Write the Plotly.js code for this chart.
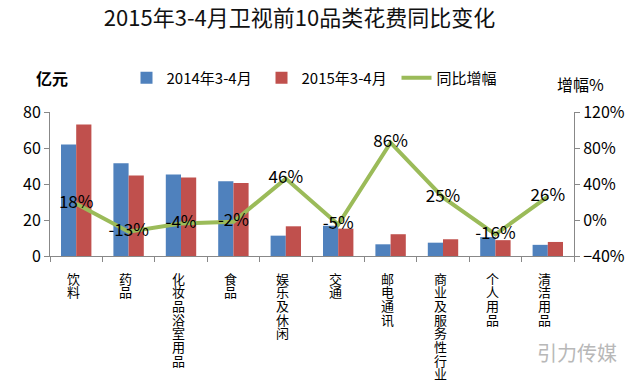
<!DOCTYPE html>
<html>
<head>
<meta charset="utf-8">
<script src="https://cdn.plot.ly/plotly-3.0.1.min.js"></script>
<style>html,body{margin:0;padding:0;background:#fff;}#chart{width:640px;height:382px;}</style>
</head>
<body>
<div id="chart"></div>
<script>
var categories = ["饮料", "药品", "化妆品、浴室用品", "食品", "娱乐及休闲", "交通", "邮电通讯", "商业及服务性行业", "个人用品", "清洁用品"];
var spend2014 = [62, 51.5, 45.3, 41.5, 11.3, 16.8, 6.5, 7.4, 10.5, 6.2];
var spend2015 = [73, 44.7, 43.6, 40.5, 16.5, 15.2, 12.1, 9.3, 8.8, 7.8];
var growth = [18, -13, -4, -2, 46, -5, 86, 25, -16, 26];
var growthLabels = ["18%", "-13%", "-4%", "-2%", "46%", "-5%", "86%", "25%", "-16%", "26%"];

var FONT = '"Noto Sans CJK SC", "Noto Sans", sans-serif';

var traces = [
  {type: 'bar', name: '2014年3-4月', x: categories, y: spend2014, marker: {color: '#4f81bd'}},
  {type: 'bar', name: '2015年3-4月', x: categories, y: spend2015, marker: {color: '#c0504d'}},
  {type: 'scatter', mode: 'lines+text', name: '同比增幅', x: categories, y: growth, yaxis: 'y2',
   line: {color: '#9bbb59', width: 4}, text: growthLabels, textposition: 'middle center',
   textfont: {size: 17, color: '#000', family: FONT}, cliponaxis: false}
];

// vertical category labels, one character per line (stacked tightly as in the source)
var STEP = 13.7;
var annotations = [];
categories.forEach(function (cat) {
  var row = 0;
  Array.from(cat).forEach(function (ch) {
    if (ch === '、') {
      annotations.push({text: ch, xref: 'x', yref: 'paper', x: cat, y: 0, xanchor: 'center', yanchor: 'middle',
        xshift: 4, yshift: -22 - (row - 1) * STEP - 6, borderpad: 0, showarrow: false, font: {size: 11, family: FONT, color: '#000'}});
      return;
    }
    annotations.push({text: ch, xref: 'x', yref: 'paper', x: cat, y: 0, xanchor: 'center', yanchor: 'middle',
      xshift: -3, yshift: -22 - row * STEP, borderpad: 0, showarrow: false, font: {size: 13, family: FONT, color: '#000'}});
    row++;
  });
});

annotations.push(
  {text: '<b>亿元</b>', xref: 'paper', yref: 'paper', x: -0.03, y: 1.236, xanchor: 'left', yanchor: 'middle', showarrow: false, font: {size: 16, family: FONT}},
  {text: '增幅%', xref: 'paper', yref: 'paper', x: 1.013, y: 1.194, xanchor: 'center', yanchor: 'middle', showarrow: false, font: {size: 16, family: FONT}},
  {text: '引力传媒', xref: 'paper', yref: 'paper', x: 1.006, y: -0.667, xanchor: 'center', yanchor: 'middle', showarrow: false, font: {size: 20, color: '#b8b8b8', family: FONT}}
);

var layout = {
  width: 640, height: 382,
  paper_bgcolor: '#ffffff', plot_bgcolor: 'rgba(0,0,0,0)',
  font: {family: FONT, color: '#000'},
  margin: {l: 50, r: 66, t: 112, b: 126},
  title: {text: '2015年3-4月卫视前10品类花费同比变化', font: {size: 22, color: '#111', family: FONT}, x: 0.468, xanchor: 'center', y: 0.952, yanchor: 'middle'},
  barmode: 'group', bargap: 0.42, bargroupgap: 0,
  showlegend: true,
  legend: {orientation: 'h', x: 0.146, xanchor: 'left', y: 1.236, yanchor: 'middle', font: {size: 15, family: FONT}, bgcolor: 'rgba(0,0,0,0)',
           itemwidth: 30, entrywidth: 90, entrywidthmode: 'pixels', tracegroupgap: 0},
  xaxis: {type: 'category', tickson: 'boundaries', ticks: 'outside', ticklen: 5, tickcolor: '#888', showticklabels: false,
          showline: true, linecolor: '#888', linewidth: 1, showgrid: false, automargin: false},
  yaxis: {range: [0, 80], dtick: 20, showline: true, linecolor: '#888', ticks: 'outside', ticklen: 5, tickcolor: '#888', showgrid: false, zeroline: false,
          tickfont: {size: 16, family: FONT}, automargin: false},
  yaxis2: {overlaying: 'y', side: 'right', range: [-40, 120], dtick: 40, ticksuffix: '%', showline: true, linecolor: '#888', ticks: 'outside', ticklen: 5, tickcolor: '#888',
           showgrid: false, zeroline: false, tickfont: {size: 16, family: FONT}, automargin: false},
  annotations: annotations
};

Plotly.newPlot('chart', traces, layout, {displayModeBar: false, staticPlot: true});
</script>
</body>
</html>
